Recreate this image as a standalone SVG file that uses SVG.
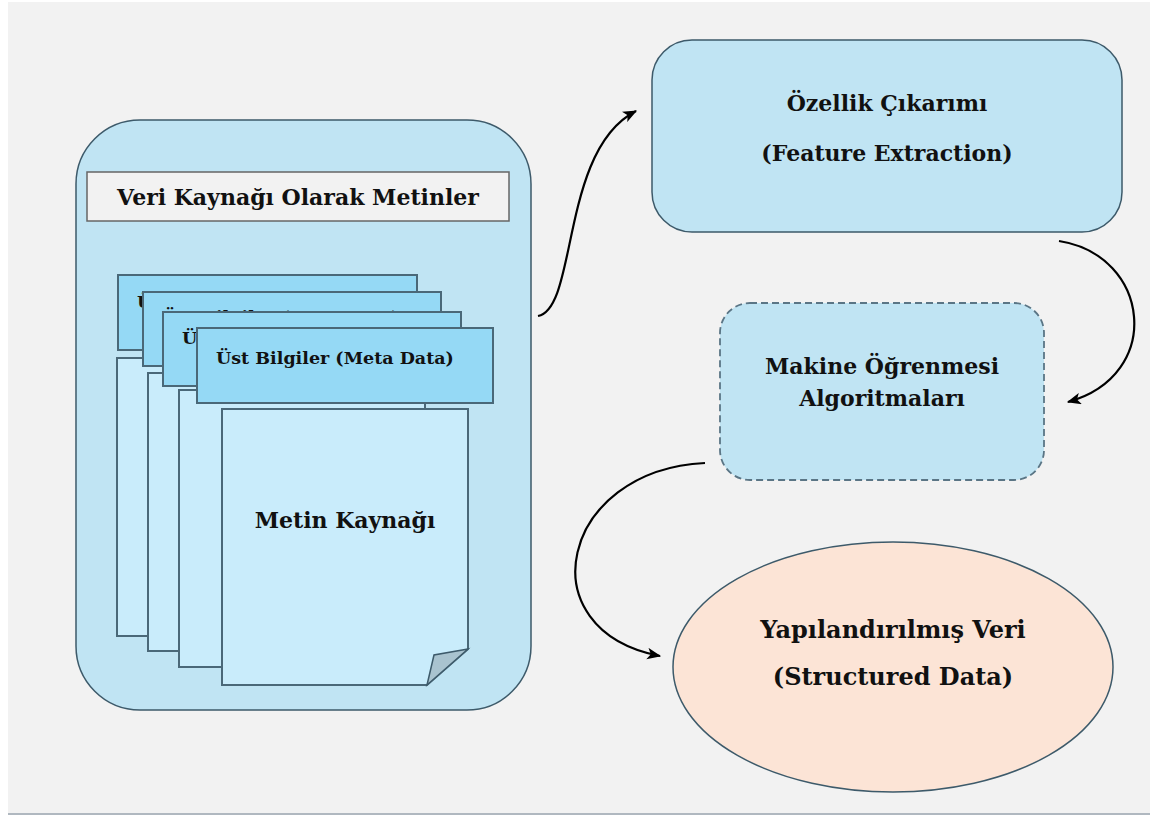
<svg xmlns="http://www.w3.org/2000/svg" width="1156" height="816" viewBox="0 0 1156 816">
<defs>
<style>
text{font-family:'DejaVu Serif','Liberation Serif',serif;font-weight:700;fill:#111}
.t{text-anchor:middle}
.hd{fill:#95d9f5;stroke:#4a6878;stroke-width:2}
.bd{fill:#c9ecfb;stroke:#4a6878;stroke-width:2}
.ht{font-size:17.5px}
.c{fill:none;stroke:#000;stroke-width:2.2}
</style>
<marker id="a" viewBox="0 0 12 10" refX="11" refY="5" markerWidth="14" markerHeight="12" orient="auto" markerUnits="userSpaceOnUse">
<path d="M0,0 L12,5 L0,10 L3,5 z" fill="#000"/>
</marker>
</defs>
<rect x="0" y="0" width="1156" height="816" fill="#ffffff"/>
<rect x="8" y="2" width="1142" height="811" fill="#f2f2f2"/>
<line x1="8" y1="814" x2="1150" y2="814" stroke="#b0b8c0" stroke-width="2"/>

<g id="source">
<rect x="76" y="120" width="455" height="590" rx="64" ry="64" fill="#c0e4f3" stroke="#3d5a6a" stroke-width="1.5"/>
<rect x="87" y="172" width="422" height="49" fill="#f2f2f2" stroke="#666" stroke-width="1.5"/>
<text class="t" x="298" y="205" font-size="22">Veri Kaynağı Olarak Metinler</text>
</g>

<g id="page1">
<rect class="bd" x="117" y="358" width="246" height="278"/>
<rect class="hd" x="118" y="275" width="299" height="75"/>
<text class="ht" x="137" y="308">Üst Bilgiler (Meta Data)</text>
</g>
<g id="page2">
<rect class="bd" x="148" y="373" width="246" height="278"/>
<rect class="hd" x="143" y="292" width="298" height="74"/>
<text class="ht" x="162" y="323">Üst Bilgiler (Meta Data)</text>
</g>
<g id="page3">
<rect class="bd" x="179" y="390" width="246" height="277"/>
<rect class="hd" x="163" y="312" width="298" height="74"/>
<text class="ht" x="182" y="344">Üst Bilgiler (Meta Data)</text>
</g>
<g id="page4">
<path class="bd" d="M222,409 L468,409 L468,649 L427,685 L222,685 Z"/>
<path d="M468,649 L434,655 L427,685 Z" fill="#a9c3cf" stroke="#3d5a6a" stroke-width="1.5"/>
<rect class="hd" x="197" y="328" width="296" height="75"/>
<text class="ht" x="216" y="364">Üst Bilgiler (Meta Data)</text>
<text class="t" x="345" y="528" font-size="22">Metin Kaynağı</text>
</g>

<g id="feature">
<rect x="652" y="40" width="470" height="192" rx="40" ry="40" fill="#c0e4f3" stroke="#3d5a6a" stroke-width="1.5"/>
<text class="t" x="887" y="111" font-size="22">Özellik Çıkarımı</text>
<text class="t" x="887" y="161" font-size="22">(Feature Extraction)</text>
</g>

<g id="ml">
<rect x="720" y="303" width="324" height="177" rx="30" ry="30" fill="#c0e4f3" stroke="#5a7585" stroke-width="1.8" stroke-dasharray="7,4"/>
<text class="t" x="882" y="374" font-size="22">Makine Öğrenmesi</text>
<text class="t" x="882" y="406" font-size="22">Algoritmaları</text>
</g>

<g id="structured">
<ellipse cx="893" cy="667" rx="220" ry="125" fill="#fce4d6" stroke="#3d5a6a" stroke-width="1.5"/>
<text class="t" x="893" y="638" font-size="24">Yapılandırılmış Veri</text>
<text class="t" x="893" y="685" font-size="24">(Structured Data)</text>
</g>

<g id="connectors">
<path class="c" d="M538,316 C578,308 560,150 636,111" marker-end="url(#a)"/>
<path class="c" d="M1059,241 C1150,255 1165,375 1068,402" marker-end="url(#a)"/>
<path class="c" d="M705,463 C560,470 525,630 660,656" marker-end="url(#a)"/>
</g>
</svg>
